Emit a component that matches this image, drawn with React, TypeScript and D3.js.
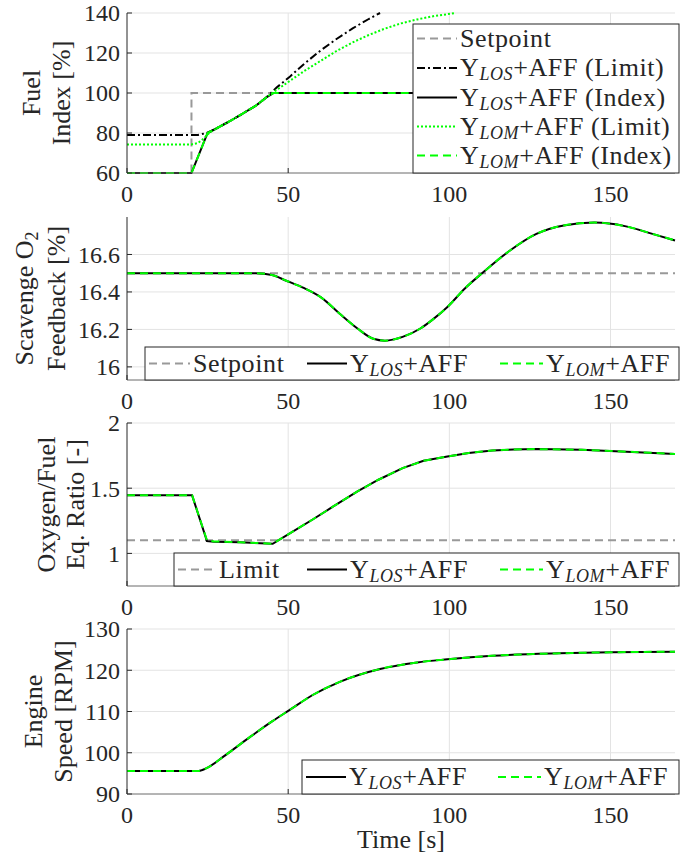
import React from 'react';
import * as d3 from 'd3';

// time axis
const xTicks = [0, 50, 100, 150];

// panel 1: fuel index [%]
const tSetpoint = [0, 20, 20, 170];
const fuelSetpoint = [60, 60, 100, 100];
const tLosLimit = [0, 22, 24.7, 28, 32, 36, 40, 43, 46.4, 50.6, 55, 60, 65, 70, 75, 78.5];
const losLimit = [79, 79, 80, 82.5, 86, 89.8, 93.7, 97.5, 102.7, 108.3, 114.6, 121.2, 127, 132.3, 137, 140];
const tIndex = [0, 20, 25, 28, 32, 36, 40, 43, 45.5, 170];
const losIndex = [60, 60, 80, 82.5, 86, 89.8, 93.7, 97.5, 100, 100];
const tLomLimit = [0, 20, 22, 24, 25.7, 28, 32, 36, 40, 43, 45.5, 50, 55, 60, 65, 70, 75, 80, 85, 90, 95, 102];
const lomLimit = [74.3, 74.3, 75, 77.5, 80.3, 82.5, 86, 89.8, 93.7, 97.5, 100.5, 105.5, 111, 116, 121, 125.3, 129, 132.2, 134.8, 136.8, 138.4, 140];
const lomIndex = [60, 60, 80, 82.5, 86, 89.8, 93.7, 97.5, 100, 100];
const fuelTicks = [60, 80, 100, 120, 140];

// panel 2: scavenge O2 [%]
const tO2 = [0, 40, 45, 49.4, 55, 60.3, 65.9, 71.5, 76.4, 80, 85.5, 91, 95, 99.4, 104.9, 110.5, 118.7, 127, 135.5, 145, 154.8, 163, 170];
const o2Los = [16.5, 16.5, 16.49, 16.46, 16.42, 16.37, 16.285, 16.205, 16.15, 16.14, 16.16, 16.205, 16.255, 16.32, 16.42, 16.505, 16.62, 16.71, 16.755, 16.77, 16.75, 16.71, 16.675];
const o2Lom = [16.5, 16.5, 16.49, 16.46, 16.42, 16.37, 16.285, 16.205, 16.15, 16.14, 16.16, 16.205, 16.255, 16.32, 16.42, 16.505, 16.62, 16.71, 16.755, 16.77, 16.75, 16.71, 16.675];
const o2Setpoint = [16.5, 16.5];
const o2Ticks = [16, 16.2, 16.4, 16.6];

// panel 3: oxygen/fuel eq. ratio
const tRatio = [0, 20.2, 24.8, 27, 35, 45.2, 50, 57.6, 64, 71.5, 78, 85.5, 92, 99.4, 106, 113.3, 120, 127.2, 141, 155, 170];
const ratioLos = [1.445, 1.445, 1.094, 1.09, 1.085, 1.074, 1.146, 1.26, 1.36, 1.475, 1.565, 1.654, 1.71, 1.743, 1.77, 1.789, 1.797, 1.8, 1.794, 1.78, 1.763];
const ratioLom = [1.445, 1.445, 1.1, 1.092, 1.085, 1.074, 1.146, 1.26, 1.36, 1.475, 1.565, 1.654, 1.71, 1.743, 1.77, 1.789, 1.797, 1.8, 1.794, 1.78, 1.763];
const ratioLimit = [1.1, 1.1];
const ratioTicks = [1, 1.5, 2];

// panel 4: engine speed [RPM]
const tSpeed = [0, 22.2, 25, 29.9, 38.3, 45, 50.5, 57.6, 66, 78.5, 90, 99.4, 113.3, 134, 150, 170];
const speedLos = [95.6, 95.6, 96.4, 99.05, 103.9, 107.6, 110.4, 114, 117.2, 120.3, 121.9, 122.65, 123.5, 124.1, 124.35, 124.5];
const speedLom = [95.6, 95.6, 96.4, 99.05, 103.9, 107.6, 110.4, 114, 117.2, 120.3, 121.9, 122.65, 123.5, 124.1, 124.35, 124.5];
const speedTicks = [90, 100, 110, 120, 130];

const tFull = [0, 170];

const FONT = '"Liberation Serif", "DejaVu Serif", serif';
const GREEN = '#00ff00';
const X0 = 127, X1 = 675;

const styles: any = {
  setpoint: { stroke: '#999999', dash: '8,5' },
  losLimit: { stroke: '#000000', dash: '8,3,2,3' },
  losIndex: { stroke: '#000000', dash: null },
  lomLimit: { stroke: GREEN, dash: '2,2' },
  lomIndex: { stroke: GREEN, dash: '8,5' },
};

function LegendLabel({ x, y, sub, rest, plain }: any) {
  if (plain) return <text x={x} y={y} fontSize={26} letterSpacing={0.6}>{plain}</text>;
  return (
    <text x={x} y={y} fontSize={26} letterSpacing={0.6}>
      Y<tspan fontStyle="italic" fontSize={18} dy={4}>{sub}</tspan>
      <tspan dy={-4}>{rest}</tspan>
    </text>
  );
}

function Panel({ cfg, idx }: any) {
  const x = d3.scaleLinear().domain([0, 170]).range([X0, X1]);
  const y = d3.scaleLinear().domain(cfg.domain).range([cfg.bottom, cfg.top]);
  const clipId = 'clip' + idx;
  const cy = (cfg.top + cfg.bottom) / 2;
  return (
    <g>
      <clipPath id={clipId}>
        <rect x={X0} y={cfg.top - 2} width={X1 - X0 + 2} height={cfg.bottom - cfg.top + 4} />
      </clipPath>
      {/* grid */}
      {xTicks.filter(t => t > 0).map(t => (
        <line key={'gx' + t} x1={x(t)} x2={x(t)} y1={cfg.top} y2={cfg.bottom} stroke="#e3e3e3" />
      ))}
      {cfg.ticks.filter((t: number) => y(t) < cfg.bottom - 1).map((t: number) => (
        <line key={'gy' + t} x1={X0} x2={X1} y1={y(t)} y2={y(t)} stroke="#e3e3e3" />
      ))}
      {/* series */}
      <g clipPath={`url(#${clipId})`}>
        {cfg.series.map((s: any, i: number) => {
          const pts: [number, number][] = s.t.map((t: number, k: number) => [t, s.v[k]]);
          const gen = d3.line<[number, number]>()
            .x(d => x(d[0]))
            .y(d => y(d[1]))
            .curve(s.smooth ? d3.curveMonotoneX : d3.curveLinear);
          const st = styles[s.style];
          return (
            <path key={i} d={gen(pts) || ''} fill="none" stroke={st.stroke} strokeWidth={2}
              strokeDasharray={st.dash || undefined} />
          );
        })}
      </g>
      {/* axes */}
      <line x1={X0} x2={X0} y1={cfg.top} y2={cfg.bottom} stroke="#262626" />
      <line x1={X0} x2={X1} y1={cfg.bottom} y2={cfg.bottom} stroke="#6b6b6b" />
      {cfg.ticks.map((t: number) => (
        <g key={'ty' + t}>
          <line x1={X0} x2={X0 + 5} y1={y(t)} y2={y(t)} stroke="#262626" />
          <text x={120} y={y(t)} dy="0.35em" textAnchor="end" fontSize={24}>{String(t)}</text>
        </g>
      ))}
      {xTicks.map(t => (
        <g key={'tx' + t}>
          <line x1={x(t)} x2={x(t)} y1={cfg.bottom} y2={cfg.bottom - 5} stroke="#262626" />
          <text x={x(t)} y={cfg.bottom + 29} textAnchor="middle" fontSize={24}>{String(t)}</text>
        </g>
      ))}
      {/* y label */}
      <text transform={`translate(${cfg.lab1x},${cy}) rotate(-90)`} textAnchor="middle" fontSize={26}>
        {cfg.label1}{cfg.label1sub ? <tspan fontSize={18} dy={5}>{cfg.label1sub}</tspan> : null}
      </text>
      <text transform={`translate(${cfg.lab2x},${cy}) rotate(-90)`} textAnchor="middle" fontSize={26}>
        {cfg.label2}
      </text>
      {/* legend */}
      <rect x={cfg.legend.x0} y={cfg.legend.y0} width={679 - cfg.legend.x0} height={cfg.legend.y1 - cfg.legend.y0}
        fill="#ffffff" stroke="#262626" />
      {cfg.legend.items.map((it: any, i: number) => {
        const st = styles[it.style];
        return (
          <g key={'lg' + i}>
            <line x1={it.lx0} x2={it.lx1} y1={it.y} y2={it.y} stroke={st.stroke} strokeWidth={2}
              strokeDasharray={st.dash || undefined} />
            <LegendLabel x={it.lx1 + 3} y={it.y + 8} sub={it.sub} rest={it.rest} plain={it.plain} />
          </g>
        );
      })}
    </g>
  );
}

const rows1 = [38.5, 68, 97.5, 126.5, 155.5];

const panels = [
  {
    top: 13, bottom: 173, domain: [60, 140], ticks: fuelTicks,
    label1: 'Fuel', label2: 'Index [%]', lab1x: 40, lab2x: 70,
    series: [
      { t: tSetpoint, v: fuelSetpoint, style: 'setpoint' },
      { t: tLosLimit, v: losLimit, style: 'losLimit' },
      { t: tIndex, v: losIndex, style: 'losIndex' },
      { t: tLomLimit, v: lomLimit, style: 'lomLimit' },
      { t: tIndex, v: lomIndex, style: 'lomIndex' },
    ],
    legend: {
      x0: 413, y0: 24, y1: 173,
      items: [
        { style: 'setpoint', lx0: 417, lx1: 457, y: rows1[0], plain: 'Setpoint' },
        { style: 'losLimit', lx0: 417, lx1: 457, y: rows1[1], sub: 'LOS', rest: '+AFF (Limit)' },
        { style: 'losIndex', lx0: 417, lx1: 457, y: rows1[2], sub: 'LOS', rest: '+AFF (Index)' },
        { style: 'lomLimit', lx0: 417, lx1: 457, y: rows1[3], sub: 'LOM', rest: '+AFF (Limit)' },
        { style: 'lomIndex', lx0: 417, lx1: 457, y: rows1[4], sub: 'LOM', rest: '+AFF (Index)' },
      ],
    },
  },
  {
    top: 217, bottom: 380, domain: [15.93, 16.8], ticks: o2Ticks,
    label1: 'Scavenge O', label1sub: '2', label2: 'Feedback [%]', lab1x: 33, lab2x: 65,
    series: [
      { t: tFull, v: o2Setpoint, style: 'setpoint' },
      { t: tO2, v: o2Los, style: 'losIndex', smooth: true },
      { t: tO2, v: o2Lom, style: 'lomIndex', smooth: true },
    ],
    legend: {
      x0: 145, y0: 347, y1: 380,
      items: [
        { style: 'setpoint', lx0: 149, lx1: 190, y: 363.5, plain: 'Setpoint' },
        { style: 'losIndex', lx0: 307, lx1: 347, y: 363.5, sub: 'LOS', rest: '+AFF' },
        { style: 'lomIndex', lx0: 500, lx1: 543, y: 363.5, sub: 'LOM', rest: '+AFF' },
      ],
    },
  },
  {
    top: 423, bottom: 586, domain: [0.75, 2], ticks: ratioTicks,
    label1: 'Oxygen/Fuel', label2: 'Eq. Ratio [-]', lab1x: 55, lab2x: 84,
    series: [
      { t: tFull, v: ratioLimit, style: 'setpoint' },
      { t: tRatio, v: ratioLos, style: 'losIndex' },
      { t: tRatio, v: ratioLom, style: 'lomIndex' },
    ],
    legend: {
      x0: 174, y0: 553, y1: 586,
      items: [
        { style: 'setpoint', lx0: 178, lx1: 216, y: 569.5, plain: 'Limit' },
        { style: 'losIndex', lx0: 307, lx1: 347, y: 569.5, sub: 'LOS', rest: '+AFF' },
        { style: 'lomIndex', lx0: 500, lx1: 543, y: 569.5, sub: 'LOM', rest: '+AFF' },
      ],
    },
  },
  {
    top: 629, bottom: 794, domain: [90, 130], ticks: speedTicks,
    label1: 'Engine', label2: 'Speed [RPM]', lab1x: 42, lab2x: 72,
    series: [
      { t: tSpeed, v: speedLos, style: 'losIndex', smooth: true },
      { t: tSpeed, v: speedLom, style: 'lomIndex', smooth: true },
    ],
    legend: {
      x0: 302, y0: 760, y1: 794,
      items: [
        { style: 'losIndex', lx0: 306, lx1: 346, y: 777, sub: 'LOS', rest: '+AFF' },
        { style: 'lomIndex', lx0: 498, lx1: 541, y: 777, sub: 'LOM', rest: '+AFF' },
      ],
    },
  },
];

export default function App() {
  return (
    <svg width={699} height={858} style={{ position: 'absolute', left: 0, top: 0, background: '#fff', fontFamily: FONT }}
      fill="#262626">
      {panels.map((p, i) => <Panel key={i} cfg={p} idx={i} />)}
      <text x={401} y={848} textAnchor="middle" fontSize={26}>Time [s]</text>
    </svg>
  );
}
